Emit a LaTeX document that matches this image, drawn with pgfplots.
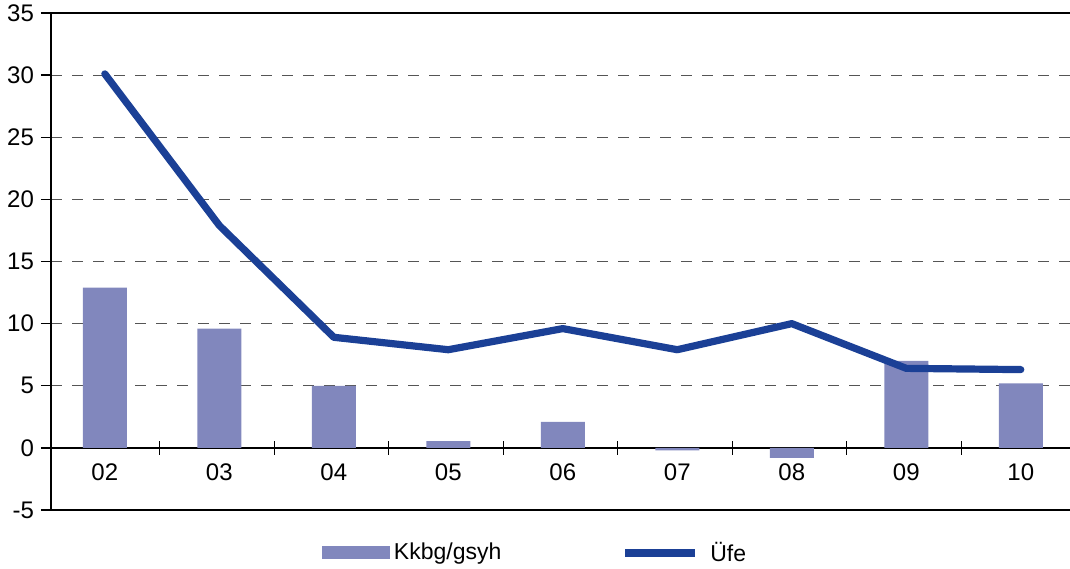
\documentclass[border=0pt]{standalone}
\usepackage{pgfplots}
\pgfplotsset{compat=1.18}
\usepackage{fontspec}
\setmainfont{Liberation Sans}
\definecolor{barcol}{RGB}{129,135,189}
\definecolor{linecol}{RGB}{27,64,150}
\definecolor{gridcol}{RGB}{85,85,85}
\begin{document}
\begin{tikzpicture}
\begin{axis}[
  scale only axis,
  width=509.5pt, height=248.5pt,
  xmin=1.53, xmax=10.43,
  ymin=-5, ymax=35,
  axis x line=middle,
  axis y line=left,
  axis line style={-, black, line width=0.7pt},
  xtick={2,...,10},
  xticklabel={\mbox{\fontsize{12}{14}\selectfont\ifnum\ticknum<8 0\fi\pgfmathprintnumber[assume math mode=true]{\tick}}},
  xticklabel style={yshift=-2pt},
  major x tick style={draw=none},
  minor xtick={2.48,3.48,4.48,5.48,6.48,7.48,8.48,9.48},
  minor x tick style={black, line width=0.7pt},
  minor tick length=7pt,
  xtick align=center,
  ytick={-5,0,...,35},
  yticklabel={\mbox{\fontsize{12}{14}\selectfont\pgfmathprintnumber[assume math mode=true]{\tick}}},
  ytick style={black, line width=0.7pt},
  ytick align=outside,
  major tick length=5pt,
  ymajorgrids,
  grid style={gridcol, line width=0.6pt, dash pattern=on 5.5pt off 5pt},
  clip=false,
  legend columns=2,
  legend style={at={(0.476,-0.0865)}, anchor=center, draw=none,
    font=\fontsize{11.5}{14}\selectfont,
    /tikz/every even column/.append style={column sep=58pt}},
  legend cell align=left,
]
\addplot[ybar, bar width=22pt, fill=barcol, draw=none,
  legend image code/.code={\fill[barcol] (0pt,-3.25pt) rectangle (34pt,3.25pt);}]
  coordinates {(2,12.9) (3,9.6) (4,5.0) (5,0.55) (6,2.1) (7,-0.2) (8,-0.8) (9,7.0) (10,5.2)};
\addlegendentry{Kkbg/gsyh}
\addplot[linecol, line width=3.6pt, line cap=round, line join=round, mark=none,
  legend image code/.code={\draw[linecol, line width=4pt, line cap=butt] (0pt,0pt) -- (35pt,0pt);}]
  coordinates {(2,30.1) (3,17.9) (4,8.9) (5,7.9) (6,9.6) (7,7.9) (8,10.0) (9,6.4) (10,6.3)};
\addlegendentry{\hspace{3.5pt}Üfe}
\draw[black, line width=0.7pt] (rel axis cs:0,0) -- (rel axis cs:1,0);
\draw[black, line width=0.7pt] (rel axis cs:0,1) -- (rel axis cs:1,1);
\end{axis}
\pgfresetboundingbox
\path (-25.5pt,-29pt) rectangle (509.5pt,255pt);
\end{tikzpicture}
\end{document}
